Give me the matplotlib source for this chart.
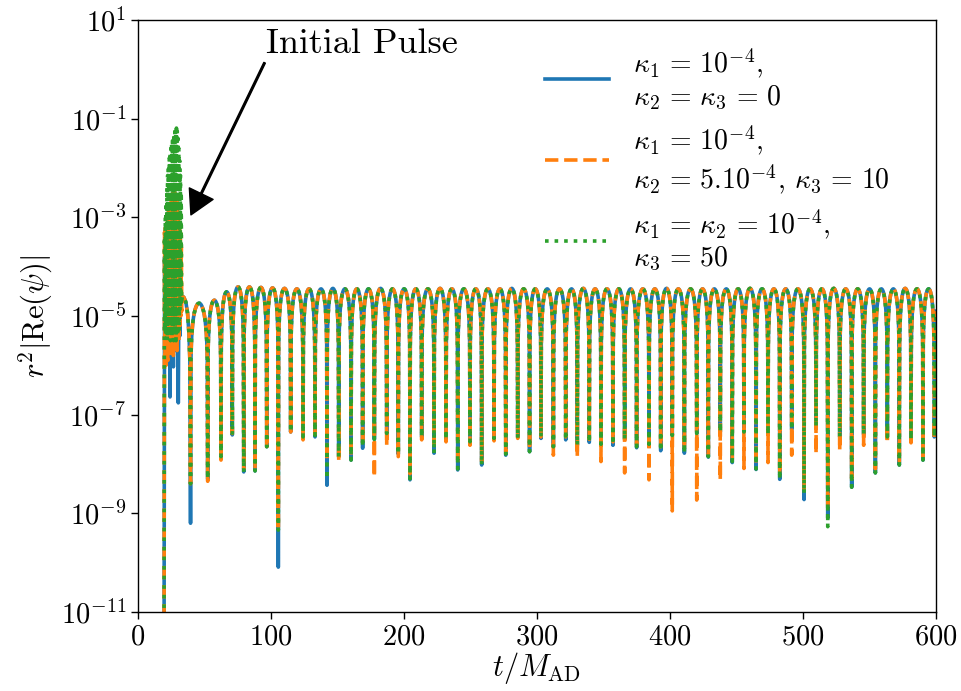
import numpy as np
import matplotlib
matplotlib.use('Agg')
import matplotlib.pyplot as plt
from matplotlib.ticker import NullLocator

plt.rcParams['font.family'] = 'serif'
plt.rcParams['font.serif'] = ['cmr10']
plt.rcParams['mathtext.fontset'] = 'cm'
plt.rcParams['axes.formatter.use_mathtext'] = True
plt.rcParams['axes.unicode_minus'] = True

# zeros of Re(psi) after the pulse (t / M_AD)
dip_t = [39.5, 52.4, 62.4, 70.9, 79.5, 88.0, 96.8, 105.5, 114.8, 124.1,
         133.1, 142.1, 150.9, 160.2, 168.9, 177.7, 187.0, 195.7, 204.5, 213.3,
         222.6, 231.6, 240.4, 249.6, 258.4, 267.7, 276.5, 285.5, 294.4, 303.0,
         312.3, 321.6, 330.3, 339.3, 348.1, 357.1, 365.9, 374.9, 384.2, 393.0,
         401.7, 410.8, 420.1, 428.8, 437.8, 446.8, 455.6, 464.7, 473.7, 482.5,
         491.5, 500.8, 509.8, 518.6, 527.6, 536.6, 545.6, 554.4, 563.4, 572.4,
         581.2, 590.2, 598.7]

# log10 of r^2|Re(psi)| at the bottom of every dip, one list per run
dip_a = [-9.2, -8.3, -7.85, -7.41, -8.16, -8.14, -7.65, -10.09, -7.35, -7.45,
         -7.45, -8.43, -7.85, -7.92, -7.68, -7.5, -7.38, -7.8, -8.32, -7.45,
         -7.78, -7.5, -8.12, -7.55, -8.02, -7.48, -7.82, -7.45, -7.75, -7.48,
         -7.65, -7.51, -7.62, -7.56, -7.6, -7.62, -7.5, -7.67, -7.6, -7.73,
         -7.42, -7.78, -7.38, -7.86, -7.35, -7.97, -7.35, -8.11, -7.4, -8.31,
         -7.3, -8.72, -7.24, -9.1, -7.45, -8.47, -7.4, -8.18, -7.45, -8.02,
         -7.5, -7.92, -7.45]
dip_b = [-8.4, -8.35, -7.92, -7.38, -8.1, -8.1, -7.68, -9.34, -7.35, -7.51,
         -7.4, -7.92, -7.95, -7.85, -7.6, -8.26, -7.62, -7.85, -8.2, -7.51,
         -7.6, -7.55, -8.0, -7.62, -7.95, -7.53, -7.75, -7.48, -7.7, -7.45,
         -7.82, -7.45, -7.85, -7.5, -7.95, -7.55, -8.18, -7.6, -8.32, -7.65,
         -8.95, -7.7, -8.73, -7.8, -8.32, -7.9, -8.09, -8.0, -7.97, -8.2,
         -7.82, -8.5, -7.78, -8.9, -7.72, -8.3, -7.62, -8.1, -7.57, -7.95,
         -7.57, -7.85, -7.5]
dip_c = [-8.4, -8.3, -7.85, -7.41, -8.16, -8.14, -7.65, -9.34, -7.35, -7.45,
         -7.42, -8.3, -7.85, -7.92, -7.65, -7.5, -7.38, -7.8, -8.3, -7.45,
         -7.78, -7.5, -8.1, -7.55, -8.02, -7.48, -7.8, -7.48, -7.75, -7.45,
         -7.65, -7.51, -7.62, -7.56, -7.6, -7.6, -7.5, -7.65, -7.6, -7.73,
         -7.42, -7.78, -7.38, -7.85, -7.35, -7.95, -7.35, -8.1, -7.4, -8.31,
         -7.3, -8.6, -7.24, -9.27, -7.45, -8.47, -7.4, -8.18, -7.45, -8.02,
         -7.5, -7.92, -7.45]

# log10 of the maximum of each lobe between two dips
lobe_top = [-4.74, -4.68, -4.51, -4.41, -4.41, -4.42, -4.43, -4.44, -4.45, -4.45,
            -4.45, -4.44, -4.45, -4.45, -4.45, -4.44, -4.45, -4.45, -4.45, -4.45,
            -4.44, -4.45, -4.45, -4.45, -4.45, -4.45, -4.44, -4.45, -4.45, -4.45,
            -4.45, -4.45, -4.44, -4.45, -4.45, -4.45, -4.45, -4.45, -4.45, -4.44,
            -4.45, -4.45, -4.45, -4.45, -4.45, -4.45, -4.44, -4.45, -4.45, -4.45,
            -4.45, -4.45, -4.45, -4.44, -4.45, -4.45, -4.45, -4.45, -4.45, -4.44,
            -4.45, -4.45]

# initial pulse (t, log10 value)
pulse_t_a = [19.6, 20.0, 20.6, 21.2, 21.8, 22.4, 23.0, 23.5, 24.1, 24.7,
             25.3, 26.0, 26.6, 27.2, 27.8, 28.4, 29.0, 29.6, 30.3, 30.9,
             31.5, 32.1, 32.7, 33.4]
pulse_a = [-11.5, -3.8, -5.6, -3.5, -5.8, -3.3, -5.7, -3.2, -6.64, -3.2,
           -5.6, -3.3, -6.03, -3.3, -5.7, -3.4, -5.6, -3.5, -6.76, -3.7,
           -5.4, -4.0, -4.7, -4.6]

pulse_t_b = [19.6, 19.95, 20.3, 20.65, 21.0, 21.35, 21.7, 22.05, 22.4, 22.75,
             23.1, 23.45, 23.8, 24.15, 24.5, 24.85, 25.2, 25.55, 25.9, 26.25,
             26.6, 26.95, 27.3, 27.65, 28.0, 28.35, 28.7, 29.05, 29.4, 29.75,
             30.1, 30.45, 30.8, 31.15, 31.5, 31.85, 32.2, 32.55, 32.9, 33.4]
pulse_b = [-11.5, -3.3, -5.8, -3.2, -6.0, -3.1, -5.6, -3.0, -5.9, -2.9,
           -5.5, -2.8, -5.8, -2.65, -5.4, -2.6, -5.7, -2.55, -5.5, -2.5,
           -5.8, -2.5, -5.3, -2.5, -5.6, -2.55, -5.4, -2.65, -5.7, -2.8,
           -5.3, -2.95, -5.5, -3.1, -5.2, -3.3, -5.0, -3.6, -4.9, -4.6]

pulse_t_c = [19.6, 19.9, 20.2, 20.5, 20.8, 21.1, 21.4, 21.7, 22.0, 22.3,
             22.6, 22.9, 23.2, 23.5, 23.8, 24.1, 24.4, 24.7, 25.0, 25.3,
             25.6, 25.9, 26.2, 26.5, 26.8, 27.1, 27.4, 27.7, 28.0, 28.3,
             28.6, 28.9, 29.2, 29.5, 29.8, 30.1, 30.4, 30.7, 31.0, 31.3,
             31.6, 31.9, 32.2, 32.5, 32.8, 33.4]
pulse_c = [-11.5, -3.4, -5.3, -3.0, -5.4, -2.7, -5.0, -2.4, -5.5, -2.15,
           -5.2, -1.95, -5.4, -1.8, -5.0, -1.7, -5.5, -1.6, -5.1, -1.5,
           -5.4, -1.42, -5.2, -1.36, -5.5, -1.3, -5.0, -1.26, -5.3, -1.22,
           -5.5, -1.19, -5.1, -1.25, -5.4, -1.4, -5.0, -1.6, -5.3, -1.85,
           -4.9, -2.15, -4.8, -2.5, -4.7, -4.6]

# slow decay between the pulse and the first dip
tail_t = [34.5, 36.0, 37.3, 38.3, 39.0]
tail_v = [-4.62, -4.72, -4.95, -5.35, -5.9]

t_end, v_end = 600.0, -4.9

labels = [r'$\kappa_1 \,=\, 10^{-4}$,' + '\n' + r'$\kappa_2 \,=\, \kappa_3 \,=\, 0$',
          r'$\kappa_1 \,=\, 10^{-4}$,' + '\n'
          + r'$\kappa_2 \,=\, 5.10^{-4}$, $\kappa_3 \,=\, 10$',
          r'$\kappa_1 \,=\, \kappa_2 \,=\, 10^{-4}$,' + '\n' + r'$\kappa_3 \,=\, 50$']


def ringdown(depth, n=40):
    # dips joined by rounded lobes of the given height
    t, v = [], []
    u = np.linspace(0, 1, n + 2)[1:-1]
    for i in range(len(dip_t)):
        t.append(dip_t[i])
        v.append(depth[i])
        if i + 1 < len(dip_t):
            t.extend(dip_t[i] + u * (dip_t[i + 1] - dip_t[i]))
            v.extend(lobe_top[i] + np.log10(np.sin(np.pi * u)))
    return t, v


def series(pt, pv, depth):
    t, v = ringdown(depth)
    tt = np.concatenate([pt, tail_t, t, [t_end]])
    vv = np.concatenate([pv, tail_v, v, [v_end]])
    return tt, 10.0 ** vv


fig = plt.figure(figsize=(9.61, 6.91), dpi=100)
ax = fig.add_axes([0.1436, 0.1143, 0.8304, 0.8567])

lw = 2.6
ta, ya = series(pulse_t_a, pulse_a, dip_a)
tb, yb = series(pulse_t_b, pulse_b, dip_b)
tc, yc = series(pulse_t_c, pulse_c, dip_c)
ax.plot(ta, ya, color='#1f77b4', lw=lw, ls='-', label=labels[0])
ax.plot(tb, yb, color='#ff7f0e', lw=lw, ls='--', label=labels[1])
ax.plot(tc, yc, color='#2ca02c', lw=lw, ls=':', label=labels[2])

ax.set_yscale('log')
ax.set_xlim(0, 600)
ax.set_ylim(1e-11, 1e1)
ax.set_yticks([1e1, 1e-1, 1e-3, 1e-5, 1e-7, 1e-9, 1e-11])
ax.yaxis.set_minor_locator(NullLocator())
ax.set_xticks([0, 100, 200, 300, 400, 500, 600])
ax.tick_params(labelsize=20.5, length=5, width=1)
for s in ax.spines.values():
    s.set_linewidth(1.0)

ax.set_xlabel(r'$t/M_{\mathrm{AD}}$', fontsize=22, labelpad=0)
ax.set_ylabel(r'$r^2|\mathrm{Re}(\psi)|$', fontsize=22, labelpad=4)

ax.annotate('Initial Pulse', xy=(39.8, 10 ** -2.95), xytext=(96.2, 1.55),
            fontsize=26, ha='left', va='bottom',
            arrowprops=dict(facecolor='black', edgecolor='black', width=1.2,
                            headwidth=19, headlength=17, shrink=0))

ax.legend(loc='upper left', bbox_to_anchor=(0.556, 0.95),
          bbox_transform=fig.transFigure, frameon=False, fontsize=20,
          handlelength=2.3, handletextpad=0.85, labelspacing=0.4,
          borderaxespad=0, borderpad=0.4)

fig.savefig('out.png', dpi=100)
